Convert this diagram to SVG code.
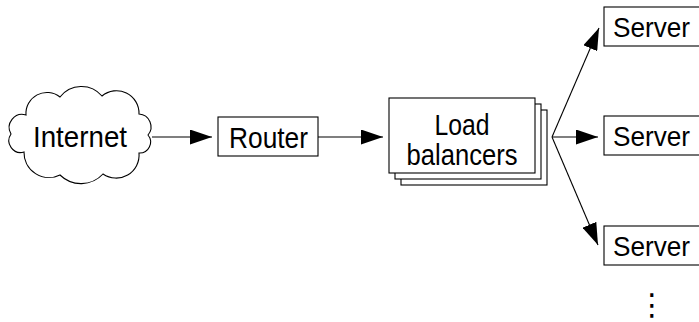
<svg xmlns="http://www.w3.org/2000/svg" width="699" height="322" viewBox="0 0 699 322">
<style>
.box{fill:#fff;stroke:#000;stroke-width:1.1}
.lbl{font-family:"Liberation Sans",Arial,sans-serif;font-size:30px;fill:#000;text-anchor:middle}
.srv{font-family:"Liberation Sans",Arial,sans-serif;font-size:28px;fill:#000}
.edge{fill:none;stroke:#000;stroke-width:1.1;marker-end:url(#ah)}
</style>
<defs>
<marker id="ah" markerUnits="userSpaceOnUse" markerWidth="22" markerHeight="15" refX="22" refY="7.5" orient="auto">
<path d="M0,0 L22,7.5 L0,15 z" fill="#000"/>
</marker>
</defs>
<rect width="699" height="322" fill="#fff"/>
<g id="internet">
<path class="box" d="M26,115 A21 21 0 0 1 60,97 A27 27 0 0 1 102,96 A22.5 22.5 0 0 1 139,114 A12.8 12.8 0 0 1 148,135 A11 11 0 0 1 139,153 A23 23 0 0 1 103,174 A30 30 0 0 1 60,175 A25 25 0 0 1 24,152 A11.8 11.8 0 0 1 11,134 A13 13 0 0 1 26,115 Z"/>
<text class="lbl" x="80" y="147" textLength="94" lengthAdjust="spacingAndGlyphs">Internet</text>
</g>
<g id="router">
<rect class="box" x="218" y="117" width="100" height="39"/>
<text class="lbl" x="268.5" y="147.5" textLength="79" lengthAdjust="spacingAndGlyphs">Router</text>
</g>
<g id="loadbalancers">
<rect class="box" x="401" y="110" width="146" height="75"/>
<rect class="box" x="395" y="104" width="146" height="75"/>
<rect class="box" x="389" y="98" width="146" height="75"/>
<text class="lbl" x="462" y="135" textLength="55" lengthAdjust="spacingAndGlyphs">Load</text>
<text class="lbl" x="462" y="165" textLength="111" lengthAdjust="spacingAndGlyphs">balancers</text>
</g>
<g id="server1">
<rect class="box" x="604" y="7" width="110" height="39"/>
<text class="srv" x="613" y="37" textLength="77" lengthAdjust="spacingAndGlyphs">Server</text>
</g>
<g id="server2">
<rect class="box" x="604" y="116" width="110" height="39"/>
<text class="srv" x="613" y="146" textLength="77" lengthAdjust="spacingAndGlyphs">Server</text>
</g>
<g id="server3">
<rect class="box" x="604" y="226" width="110" height="39"/>
<text class="srv" x="613" y="256" textLength="77" lengthAdjust="spacingAndGlyphs">Server</text>
</g>
<g id="more">
<text x="652" y="315" font-family="DejaVu Sans, sans-serif" font-size="30" text-anchor="middle">⋮</text>
</g>
<g id="connectors">
<line class="edge" x1="152" y1="137" x2="212" y2="137"/>
<line class="edge" x1="318" y1="137" x2="383" y2="137"/>
<polyline class="edge" points="552,137 599,28"/>
<polyline class="edge" points="552,137 598,137"/>
<polyline class="edge" points="552,137 598,245"/>
</g>
</svg>
